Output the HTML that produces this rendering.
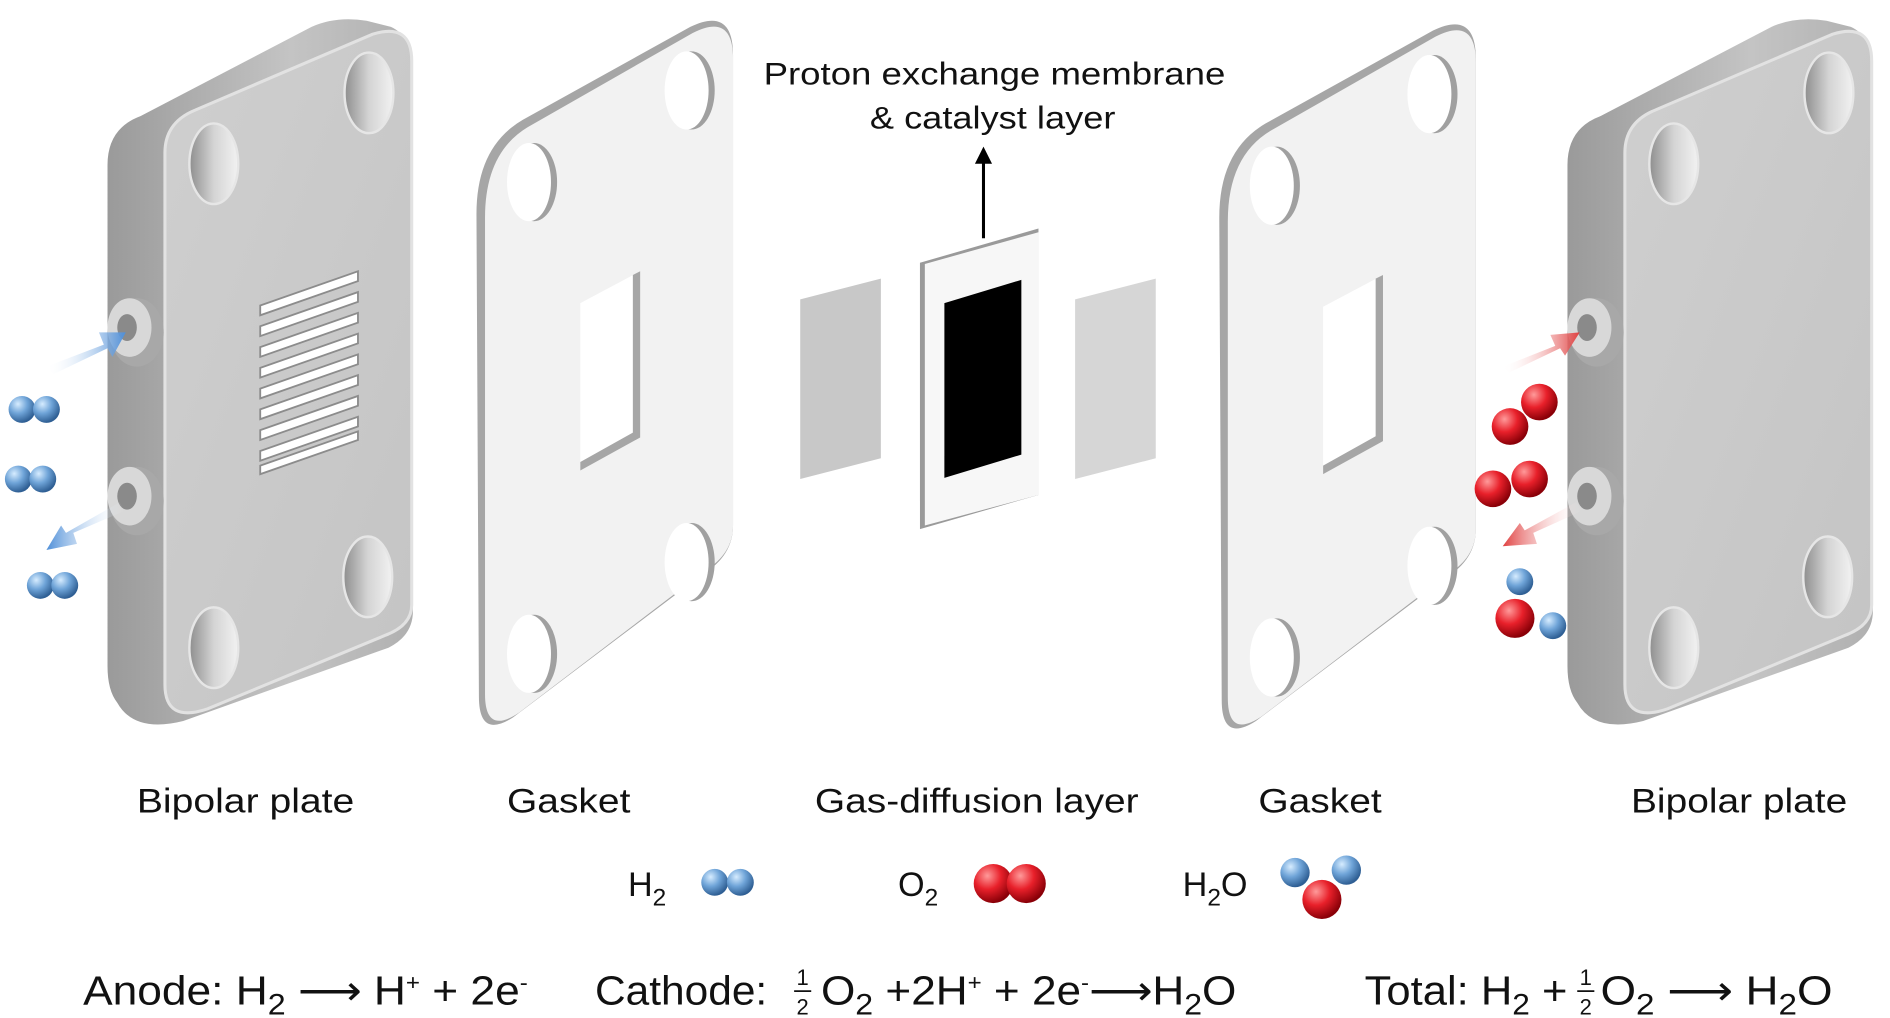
<!DOCTYPE html>
<html><head><meta charset="utf-8"><style>
html,body{margin:0;padding:0;background:#fff;}
svg{display:block;}
text{font-family:"Liberation Sans",Arial,sans-serif;fill:#111;}
</style></head><body>
<svg width="1890" height="1018" viewBox="0 0 1547 833" preserveAspectRatio="none" xmlns="http://www.w3.org/2000/svg">
<defs>
<radialGradient id="bl" cx="0.35" cy="0.3" r="0.7"><stop offset="0" stop-color="#d6ecff"/><stop offset="0.5" stop-color="#6fa4d8"/><stop offset="1" stop-color="#2f5f94"/></radialGradient>
<radialGradient id="rd" cx="0.35" cy="0.3" r="0.7"><stop offset="0" stop-color="#ff9a9a"/><stop offset="0.5" stop-color="#e8202a"/><stop offset="1" stop-color="#8a0008"/></radialGradient>
<linearGradient id="plate" x1="0" y1="0" x2="1" y2="1"><stop offset="0" stop-color="#cfcfcf"/><stop offset="1" stop-color="#c4c4c4"/></linearGradient>
<linearGradient id="side" x1="0" y1="0" x2="1" y2="0"><stop offset="0" stop-color="#9a9a9a"/><stop offset="0.6" stop-color="#c4c4c4"/><stop offset="1" stop-color="#b0b0b0"/></linearGradient>
<linearGradient id="hole" x1="0" y1="0" x2="1" y2="0"><stop offset="0" stop-color="#8e8e8e"/><stop offset="0.5" stop-color="#d4d4d4"/><stop offset="1" stop-color="#f2f2f2"/></linearGradient>
<linearGradient id="ab" x1="0" y1="0" x2="1" y2="0"><stop offset="0" stop-color="#fff" stop-opacity="0"/><stop offset="1" stop-color="#4f8fd8"/></linearGradient>
<linearGradient id="ab2" x1="1" y1="0" x2="0" y2="0"><stop offset="0" stop-color="#fff" stop-opacity="0"/><stop offset="1" stop-color="#4f8fd8"/></linearGradient>
<linearGradient id="ar" x1="0" y1="0" x2="1" y2="0"><stop offset="0" stop-color="#fff" stop-opacity="0"/><stop offset="1" stop-color="#e04040"/></linearGradient>
<linearGradient id="ar2" x1="1" y1="0" x2="0" y2="0"><stop offset="0" stop-color="#fff" stop-opacity="0"/><stop offset="1" stop-color="#e04040"/></linearGradient>
<g id="plateShape">
<path d="M88,135 Q88,105 115,95 L255,22 Q275,13 300,17 L320,22 Q338,30 338,60 L338,500 Q338,520 318,530 L150,590 Q110,600 96,575 Q88,565 88,545 Z" fill="url(#side)"/>
<path d="M135,125 Q135,100 160,90 L305,28 Q337,18 337,50 L337,495 Q337,512 315,520 L170,580 Q135,592 135,560 Z" fill="url(#plate)" stroke="#e2e2e2" stroke-width="2.5"/>
<ellipse cx="175" cy="134" rx="20" ry="33" fill="url(#hole)" stroke="#e6e6e6" stroke-width="2"/>
<ellipse cx="302" cy="76" rx="20" ry="33" fill="url(#hole)" stroke="#e6e6e6" stroke-width="2"/>
<ellipse cx="301" cy="472" rx="20" ry="33" fill="url(#hole)" stroke="#e6e6e6" stroke-width="2"/>
<ellipse cx="175" cy="530" rx="20" ry="33" fill="url(#hole)" stroke="#e6e6e6" stroke-width="2"/>
</g>
<g id="gasketShape">
<path d="M390,175 Q390,120 428,98 L565,22 Q600,5 600,45 L600,430 Q600,455 575,470 L420,587 Q392,605 392,570 Z" fill="#a6a6a6"/>
<path d="M397,178 Q397,125 432,104 L567,27 Q600,10 600,48 L600,430 Q600,453 577,467 L425,583 Q397,602 397,568 Z" fill="#f2f2f2"/>
<ellipse cx="437" cy="149" rx="19" ry="32" fill="#a0a0a0"/><ellipse cx="433" cy="149" rx="18" ry="32" fill="#fff"/>
<ellipse cx="566" cy="74" rx="19" ry="32" fill="#a0a0a0"/><ellipse cx="562" cy="74" rx="18" ry="32" fill="#fff"/>
<ellipse cx="566" cy="460" rx="19" ry="32" fill="#a0a0a0"/><ellipse cx="562" cy="460" rx="18" ry="32" fill="#fff"/>
<ellipse cx="437" cy="535" rx="19" ry="32" fill="#a0a0a0"/><ellipse cx="433" cy="535" rx="18" ry="32" fill="#fff"/>
<path d="M475,248 L524,222 L524,358 L475,385 Z" fill="#fff"/>
<path d="M518,225 L524,222 L524,358 L475,385 L475,378 L518,354 Z" fill="#a6a6a6"/>
</g>
</defs>

<!-- LEFT BIPOLAR PLATE -->
<use href="#plateShape"/>
<g fill="#fff" stroke="#8c8c8c" stroke-width="1.5">
<path d="M213,250 L293,222 L293,230 L213,258 Z"/>
<path d="M213,267 L293,239 L293,247 L213,275 Z"/>
<path d="M213,284 L293,256 L293,264 L213,292 Z"/>
<path d="M213,301 L293,273 L293,281 L213,309 Z"/>
<path d="M213,318 L293,290 L293,298 L213,326 Z"/>
<path d="M213,335 L293,307 L293,315 L213,343 Z"/>
<path d="M213,352 L293,324 L293,332 L213,360 Z"/>
<path d="M213,369 L293,341 L293,349 L213,377 Z"/>
<path d="M213,381 L293,353 L293,360 L213,388 Z"/>
</g>
<ellipse cx="112" cy="272" rx="22" ry="28" fill="#a8a8a8"/><ellipse cx="106" cy="268" rx="18" ry="24" fill="#d8d8d8"/><ellipse cx="104" cy="268" rx="8" ry="11" fill="#8a8a8a"/>
<ellipse cx="112" cy="410" rx="22" ry="28" fill="#a8a8a8"/><ellipse cx="106" cy="406" rx="18" ry="24" fill="#d8d8d8"/><ellipse cx="104" cy="406" rx="8" ry="11" fill="#8a8a8a"/>
<path d="M38,300 L85,282 L81,272 L103,272 L92,292 L88,285 L44,306 Z" fill="url(#ab)"/>
<path d="M102,418 L60,436 L63,445 L38,450 L50,430 L54,436 L98,411 Z" fill="url(#ab2)"/>
<circle cx="18" cy="335" r="11" fill="url(#bl)"/><circle cx="38" cy="335" r="11" fill="url(#bl)"/>
<circle cx="15" cy="392" r="11" fill="url(#bl)"/><circle cx="35" cy="392" r="11" fill="url(#bl)"/>
<circle cx="33" cy="479" r="11" fill="url(#bl)"/><circle cx="53" cy="479" r="11" fill="url(#bl)"/>

<!-- LEFT GASKET -->
<use href="#gasketShape"/>

<!-- GDL + membrane -->
<path d="M655,245 L721,228 L721,375 L655,392 Z" fill="#c8c8c8"/>
<path d="M753,215 L850,187 L850,405 L753,433 Z" fill="#9a9a9a"/>
<path d="M757,216 L850,190 L850,405 L757,430 Z" fill="#f7f7f7"/>
<path d="M773,248 L836,229 L836,372 L773,391 Z" fill="#000"/>
<path d="M880,245 L946,228 L946,375 L880,392 Z" fill="#d6d6d6"/>
<line x1="805" y1="195" x2="805" y2="128" stroke="#000" stroke-width="2.5"/>
<path d="M798,134 L805,120 L812,134 Z" fill="#000"/>
<text x="625" y="69" font-size="26" textLength="378" lengthAdjust="spacingAndGlyphs">Proton exchange membrane</text>
<text x="712" y="105" font-size="26" textLength="201" lengthAdjust="spacingAndGlyphs">&amp; catalyst layer</text>

<!-- RIGHT GASKET -->
<use href="#gasketShape" transform="translate(608,3)"/>

<!-- RIGHT BIPOLAR PLATE -->
<use href="#plateShape" transform="translate(1195,0)"/>
<ellipse cx="1307" cy="272" rx="22" ry="28" fill="#a8a8a8"/><ellipse cx="1301" cy="268" rx="18" ry="24" fill="#d8d8d8"/><ellipse cx="1299" cy="268" rx="8" ry="11" fill="#8a8a8a"/>
<ellipse cx="1307" cy="410" rx="22" ry="28" fill="#a8a8a8"/><ellipse cx="1301" cy="406" rx="18" ry="24" fill="#d8d8d8"/><ellipse cx="1299" cy="406" rx="8" ry="11" fill="#8a8a8a"/>
<path d="M1230,300 L1273,283 L1269,274 L1293,272 L1281,291 L1277,285 L1235,305 Z" fill="url(#ar)"/>
<path d="M1295,418 L1255,436 L1258,445 L1230,447 L1244,428 L1248,434 L1290,411 Z" fill="url(#ar2)"/>
<circle cx="1236" cy="349" r="15" fill="url(#rd)"/><circle cx="1260" cy="329" r="15" fill="url(#rd)"/>
<circle cx="1222" cy="400" r="15" fill="url(#rd)"/><circle cx="1252" cy="392" r="15" fill="url(#rd)"/>
<circle cx="1244" cy="476" r="11" fill="url(#bl)"/><circle cx="1240" cy="506" r="16" fill="url(#rd)"/><circle cx="1271" cy="512" r="11" fill="url(#bl)"/>

<!-- labels -->
<g font-size="28">
<text x="112" y="665" textLength="178" lengthAdjust="spacingAndGlyphs">Bipolar plate</text>
<text x="415" y="665" textLength="101" lengthAdjust="spacingAndGlyphs">Gasket</text>
<text x="667" y="665" textLength="265" lengthAdjust="spacingAndGlyphs">Gas-diffusion layer</text>
<text x="1030" y="665" textLength="101" lengthAdjust="spacingAndGlyphs">Gasket</text>
<text x="1335" y="665" textLength="177" lengthAdjust="spacingAndGlyphs">Bipolar plate</text>
</g>

<!-- legend -->
<text x="514" y="733" font-size="28">H<tspan font-size="20" dy="8">2</tspan></text>
<circle cx="585" cy="722" r="11" fill="url(#bl)"/><circle cx="606" cy="722" r="11" fill="url(#bl)"/>
<text x="735" y="733" font-size="28">O<tspan font-size="20" dy="8">2</tspan></text>
<circle cx="813" cy="723" r="16" fill="url(#rd)"/><circle cx="840" cy="723" r="16" fill="url(#rd)"/>
<text x="968" y="733" font-size="28">H<tspan font-size="20" dy="8">2</tspan><tspan dy="-8">O</tspan></text>
<circle cx="1060" cy="714" r="12" fill="url(#bl)"/><circle cx="1102" cy="712" r="12" fill="url(#bl)"/><circle cx="1082" cy="736" r="16" fill="url(#rd)"/>

<!-- equations -->
<g font-size="33">
<text x="68" y="822" textLength="364" lengthAdjust="spacingAndGlyphs">Anode: H<tspan font-size="24" dy="8">2</tspan><tspan dy="-8"> ⟶ H</tspan><tspan font-size="18" dy="-12">+</tspan><tspan dy="12"> + 2e</tspan><tspan font-size="18" dy="-12">-</tspan></text>
<text x="487" y="822" textLength="141" lengthAdjust="spacingAndGlyphs">Cathode:</text>
<text x="657" y="806" font-size="18" text-anchor="middle">1</text>
<line x1="650" y1="811" x2="664" y2="811" stroke="#111" stroke-width="1.5"/>
<text x="657" y="830" font-size="18" text-anchor="middle">2</text>
<text x="672" y="822" textLength="340" lengthAdjust="spacingAndGlyphs">O<tspan font-size="24" dy="8">2</tspan><tspan dy="-8"> +2H</tspan><tspan font-size="18" dy="-12">+</tspan><tspan dy="12"> + 2e</tspan><tspan font-size="18" dy="-12">-</tspan><tspan dy="12">⟶H</tspan><tspan font-size="24" dy="8">2</tspan><tspan dy="-8">O</tspan></text>
<text x="1117" y="822" textLength="166" lengthAdjust="spacingAndGlyphs">Total: H<tspan font-size="24" dy="8">2</tspan><tspan dy="-8"> +</tspan></text>
<text x="1298" y="806" font-size="18" text-anchor="middle">1</text>
<line x1="1291" y1="811" x2="1305" y2="811" stroke="#111" stroke-width="1.5"/>
<text x="1298" y="830" font-size="18" text-anchor="middle">2</text>
<text x="1310" y="822" textLength="190" lengthAdjust="spacingAndGlyphs">O<tspan font-size="24" dy="8">2</tspan><tspan dy="-8"> ⟶ H</tspan><tspan font-size="24" dy="8">2</tspan><tspan dy="-8">O</tspan></text>
</g>
</svg>
</body></html>
